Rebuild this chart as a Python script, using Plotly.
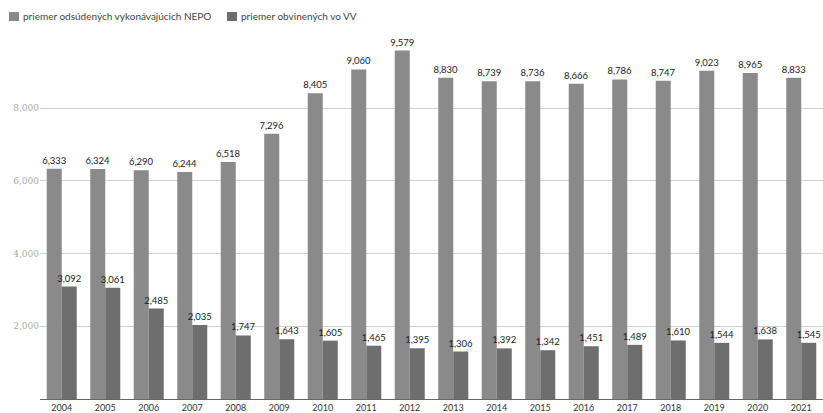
import plotly.graph_objects as go

years = [str(y) for y in range(2004, 2022)]
nepo = [6333, 6324, 6290, 6244, 6518, 7296, 8405, 9060, 9579, 8830,
        8739, 8736, 8666, 8786, 8747, 9023, 8965, 8833]
vv = [3092, 3061, 2485, 2035, 1747, 1643, 1605, 1465, 1395, 1306,
      1392, 1342, 1451, 1489, 1610, 1544, 1638, 1545]
series_names = ["priemer odsúdených vykonávajúcich NEPO", "priemer obvinených vo VV"]
series_colors = ["#8a8a8a", "#6e6e6e"]
y_ticks = [0, 2000, 4000, 6000, 8000]
y_tick_labels = ["", "2,000", "4,000", "6,000", "8,000"]

W, H = 823, 413
M_L, M_R, M_T, M_B = 40, 0, 28, 14
PW, PH = W - M_L - M_R, H - M_T - M_B


def px_x(px):
    return (px - M_L) / PW


def px_y(py):
    return (H - M_B - py) / PH


fig = go.Figure()
for name, vals, color in zip(series_names, [nepo, vv], series_colors):
    fig.add_trace(go.Bar(
        x=years, y=vals, name=name,
        marker=dict(color=color, line=dict(width=0)),
        texttemplate="%{y:,}", textposition="outside", cliponaxis=False,
        textfont=dict(size=9.5, color="#222", family="Lato"),
    ))

# compact legend drawn along the top edge
legend_x = [9, 227]
for lx, name, color in zip(legend_x, series_names, series_colors):
    fig.add_shape(type="rect", xref="paper", yref="paper",
                  x0=px_x(lx), x1=px_x(lx + 10),
                  y0=px_y(21), y1=px_y(12),
                  fillcolor=color, line=dict(width=0))
    fig.add_annotation(xref="paper", yref="paper",
                       x=px_x(lx + 13), y=px_y(16.5),
                       xanchor="left", yanchor="middle", showarrow=False,
                       xshift=-1, text=name,
                       font=dict(size=10, color="#444", family="Lato"))

fig.update_layout(
    width=W, height=H,
    margin=dict(l=M_L, r=M_R, t=M_T, b=M_B, autoexpand=False),
    paper_bgcolor="white", plot_bgcolor="white",
    barmode="group", bargap=0.31, bargroupgap=0,
    font=dict(family="Lato", size=9, color="#333"),
    showlegend=False,
    uniformtext=dict(minsize=8, mode="show"),
)
fig.update_xaxes(
    type="category", showgrid=False, showline=True, linecolor="#666", linewidth=1,
    ticks="", tickfont=dict(size=9, color="#333"),
)
fig.update_yaxes(
    range=[0, 10200], tickvals=y_ticks, ticktext=y_tick_labels,
    showgrid=True, gridcolor="#d0d0d0", gridwidth=1, zeroline=False,
    tickfont=dict(size=9, color="#aaa", family="DejaVu Serif"), ticks="",
)

fig.write_html("out.html")
